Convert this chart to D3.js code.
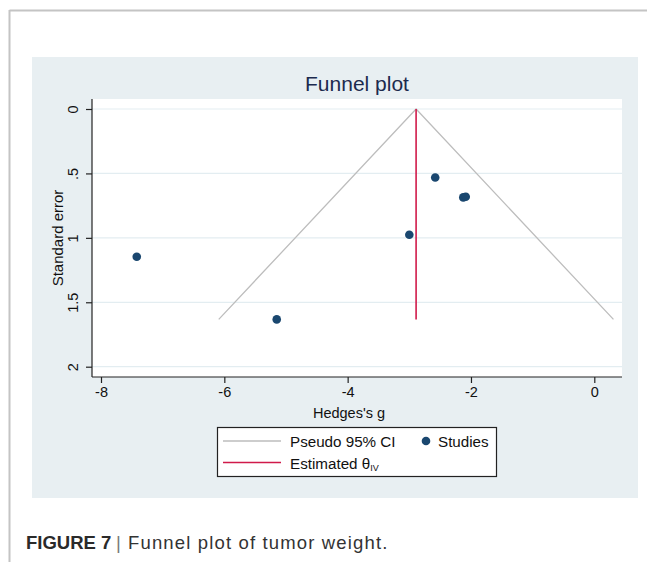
<!DOCTYPE html>
<html>
<head>
<meta charset="utf-8">
<script src="https://cdn.jsdelivr.net/npm/d3@7"></script>
<style>
  html, body { margin: 0; padding: 0; background: #fff; }
  svg { display: block; font-family: "Liberation Sans", Arial, Helvetica, sans-serif; }
</style>
</head>
<body>
<svg id="chart" width="647" height="562"></svg>
<script>
// Study effect sizes (Hedges's g) and their standard errors
const studyG  = [-7.42, -5.15, -3.00, -2.58, -2.125, -2.085];
const studySE = [1.147, 1.633, 0.976, 0.532, 0.686, 0.681];
// Inverse-variance pooled estimate
const thetaIV = -2.89;
const xTicks = [-8, -6, -4, -2, 0];
const yTicks = [0, 0.5, 1, 1.5, 2];
const yTickLabels = ["0", ".5", "1", "1.5", "2"];

const svg = d3.select("#chart");

// outer figure frame (top and left rules)
svg.append("line").attr("x1", 9.5).attr("x2", 647).attr("y1", 10.5).attr("y2", 10.5)
  .attr("stroke", "#c4c4c4").attr("stroke-width", 2);
svg.append("line").attr("x1", 9.5).attr("x2", 9.5).attr("y1", 10).attr("y2", 562)
  .attr("stroke", "#c4c4c4").attr("stroke-width", 2);

// graph background panel
svg.append("rect").attr("x", 32).attr("y", 57).attr("width", 606).attr("height", 441)
  .attr("fill", "#e8eff2");

// plot region
const plot = { left: 92, right: 622, top: 99, bottom: 377 };
svg.append("rect").attr("x", plot.left).attr("y", plot.top)
  .attr("width", plot.right - plot.left).attr("height", plot.bottom - plot.top)
  .attr("fill", "#ffffff");

const x = d3.scaleLinear().domain([-8, 0]).range([101, 594.3]);
const y = d3.scaleLinear().domain([0, 2]).range([109, 366.7]);

// horizontal grid lines
svg.append("g").selectAll("line").data(yTicks).join("line")
  .attr("x1", plot.left).attr("x2", plot.right)
  .attr("y1", d => y(d)).attr("y2", d => y(d))
  .attr("stroke", "#e3edf1").attr("stroke-width", 1.2);

// title
svg.append("text").attr("x", 357).attr("y", 91).attr("text-anchor", "middle")
  .attr("font-size", 21).attr("fill", "#1c2a4e").text("Funnel plot");

// x axis
const xAxis = svg.append("g").attr("transform", `translate(0,${plot.bottom})`)
  .call(d3.axisBottom(x).tickValues(xTicks).tickSize(6).tickPadding(4)
    .tickFormat(d => d3.format("d")(d).replace("−", "-")));
xAxis.select(".domain").remove();
xAxis.append("line").attr("x1", plot.left).attr("x2", plot.right)
  .attr("stroke", "#222").attr("stroke-width", 1.2);
xAxis.selectAll(".tick line").attr("stroke", "#222").attr("stroke-width", 1.2);
xAxis.selectAll(".tick text").attr("font-size", 14.5).attr("fill", "#111")
  .attr("font-family", "Liberation Sans, Arial, sans-serif");

// y axis
const yAxis = svg.append("g").attr("transform", `translate(${plot.left},0)`)
  .call(d3.axisLeft(y).tickValues(yTicks).tickSize(6).tickPadding(0)
    .tickFormat((d, i) => yTickLabels[i]));
yAxis.select(".domain").remove();
yAxis.append("line").attr("y1", plot.top).attr("y2", plot.bottom)
  .attr("stroke", "#222").attr("stroke-width", 1.2);
yAxis.selectAll(".tick line").attr("stroke", "#222").attr("stroke-width", 1.2);
yAxis.selectAll(".tick text")
  .attr("x", null)
  .attr("transform", "translate(-14,0) rotate(-90)")
  .attr("text-anchor", "middle").attr("dy", "0")
  .attr("font-size", 14.5).attr("fill", "#111")
  .attr("font-family", "Liberation Sans, Arial, sans-serif");

// axis titles
svg.append("text").attr("x", 349).attr("y", 418).attr("text-anchor", "middle")
  .attr("font-size", 14.5).attr("fill", "#111").text("Hedges's g");
svg.append("text").attr("transform", "translate(63,238) rotate(-90)")
  .attr("text-anchor", "middle").attr("font-size", 15).attr("fill", "#111")
  .text("Standard error");

// pseudo 95% confidence limits
const seMax = d3.max(studySE);
const funnel = [
  [thetaIV - 1.96 * seMax, seMax],
  [thetaIV, 0],
  [thetaIV + 1.96 * seMax, seMax]
];
svg.append("path")
  .attr("d", d3.line().x(d => x(d[0])).y(d => y(d[1]))(funnel))
  .attr("fill", "none").attr("stroke", "#bdbdbd").attr("stroke-width", 1.3);

// pooled estimate line
svg.append("line").attr("x1", x(thetaIV)).attr("x2", x(thetaIV))
  .attr("y1", y(0)).attr("y2", y(seMax))
  .attr("stroke", "#d01a4a").attr("stroke-width", 1.6);

// studies
svg.append("g").selectAll("circle").data(studyG.map((g, i) => [g, studySE[i]])).join("circle")
  .attr("cx", d => x(d[0])).attr("cy", d => y(d[1])).attr("r", 4.3)
  .attr("fill", "#1a476f");

// legend
const lg = svg.append("g");
lg.append("rect").attr("x", 217.5).attr("y", 427.5).attr("width", 279).attr("height", 49)
  .attr("fill", "#fff").attr("stroke", "#222").attr("stroke-width", 1.2);
lg.append("line").attr("x1", 223).attr("x2", 281).attr("y1", 441).attr("y2", 441)
  .attr("stroke", "#bdbdbd").attr("stroke-width", 1.3);
lg.append("text").attr("x", 290).attr("y", 446.5).attr("font-size", 15.2).attr("fill", "#111")
  .text("Pseudo 95% CI");
lg.append("circle").attr("cx", 426).attr("cy", 441).attr("r", 4.3).attr("fill", "#1a476f");
lg.append("text").attr("x", 438).attr("y", 446.5).attr("font-size", 15.2).attr("fill", "#111")
  .text("Studies");
lg.append("line").attr("x1", 223).attr("x2", 281).attr("y1", 462.5).attr("y2", 462.5)
  .attr("stroke", "#d01a4a").attr("stroke-width", 1.6);
const est = lg.append("text").attr("x", 290).attr("y", 468.5).attr("font-size", 15.2).attr("fill", "#111");
est.append("tspan").text("Estimated θ");
est.append("tspan").attr("font-size", 9).attr("dy", 2).text("IV");

// caption
const cap = svg.append("text").attr("x", 26).attr("y", 549).attr("font-size", 18.5).attr("fill", "#2a2a2a");
cap.append("tspan").attr("font-weight", "bold").text("FIGURE 7");
cap.append("tspan").attr("fill", "#777").attr("x", 116).text("|");
cap.append("tspan").attr("x", 128).attr("letter-spacing", 1.15).attr("fill", "#333")
  .text("Funnel plot of tumor weight.");
</script>
</body>
</html>
